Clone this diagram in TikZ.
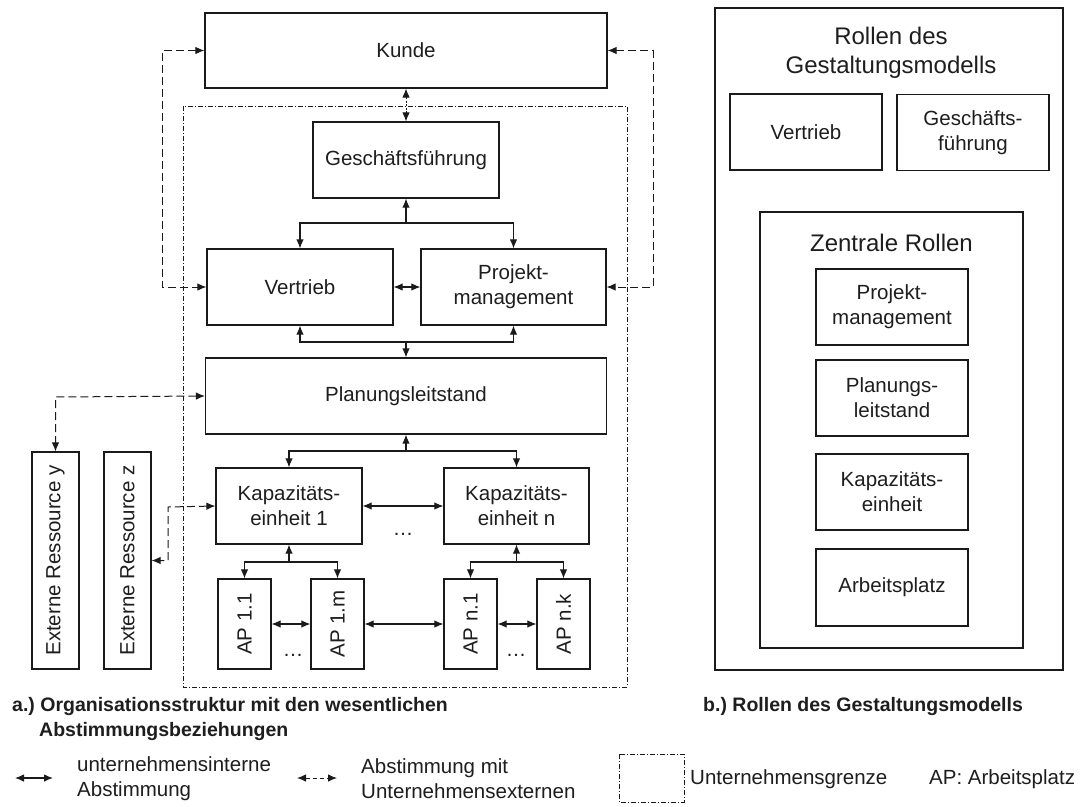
\documentclass[tikz,border=0pt]{standalone}
\usepackage{fontspec}
\setmainfont{Liberation Sans}
\usepackage{graphicx}
\usetikzlibrary{arrows.meta}
\definecolor{ink}{HTML}{1A1A1A}
\definecolor{txt}{HTML}{1E1E1E}
\frenchspacing

\begin{document}
\begin{tikzpicture}[x=1pt,y=-1pt,
  >={Latex[length=9pt,width=7.5pt]},
  every node/.style={text=txt},
  txtnode/.style={inner sep=0pt, align=center, font=\fontsize{20.5}{25}\selectfont},
  bignode/.style={inner sep=0pt, align=center, font=\fontsize{24}{29}\selectfont},
  box/.style={txtnode, draw=ink, line width=1.2pt},
  int/.style={draw=ink, line width=1.1pt},
  ext/.style={draw=ink, line width=1pt, dash pattern=on 8pt off 4pt},
  extshort/.style={draw=ink, line width=0.9pt, dash pattern=on 2pt off 1.5pt},
  border/.style={draw=ink, line width=0.8pt, dash pattern=on 5pt off 2pt on 1pt off 2pt},
  caption/.style={inner sep=0pt, align=left, font=\fontsize{19.5}{25}\selectfont\bfseries}
]
\fill[white] (0,0) rectangle (1081,806);
\useasboundingbox (0,0) rectangle (1081,806);

% company boundary
\draw[border] (183,106) rectangle (627,687);

% ---- a) organisation structure ----
\node[box, minimum width=402, minimum height=75] (kunde) at (406,50.5) {Kunde};
\node[box, minimum width=186, minimum height=76] (gf) at (406,160) {Geschäftsführung};
\node[box, minimum width=186, minimum height=76] (vt) at (300,287) {Vertrieb};
\node[box, minimum width=185, minimum height=76] (pm) at (513.5,287) {Projekt-\\management};
\node[box, minimum width=401, minimum height=76] (pl) at (406,396) {Planungsleitstand};
\node[box, minimum width=146, minimum height=76] (ke1) at (289,506) {Kapazitäts-\\einheit 1};
\node[box, minimum width=145, minimum height=76] (ken) at (516.5,506) {Kapazitäts-\\einheit n};
\node[box, minimum width=53, minimum height=90] (ap11) at (244.5,624) {\rotatebox{90}{AP 1.1}};
\node[box, minimum width=53, minimum height=90] (ap1m) at (337.5,624) {\rotatebox{90}{AP 1.m}};
\node[box, minimum width=53, minimum height=90] (apn1) at (470.5,624) {\rotatebox{90}{AP n.1}};
\node[box, minimum width=53, minimum height=90] (apnk) at (563.5,624) {\rotatebox{90}{AP n.k}};
\node[box, minimum width=47, minimum height=217] (ery) at (55.5,560.5) {\rotatebox{90}{Externe Ressource y}};
\node[box, minimum width=47, minimum height=217] (erz) at (127.5,560.5) {\rotatebox{90}{Externe Ressource z}};

\node[txtnode] (dk) at (403,534) {…};
\node[txtnode] (da1) at (293,655) {…};
\node[txtnode] (dan) at (516,655) {…};

% junction points
\coordinate (j1) at (406,223);
\coordinate (j2) at (406,342);
\coordinate (j3) at (406,451);
\coordinate (j4) at (289,562);
\coordinate (j5) at (516.5,562);

% internal coordination
\draw[int,->] (j1) -- (gf.south);
\draw[int,->] (j1) -| (vt.north);
\draw[int,->] (j1) -| (pm.north);
\draw[int,<->] (vt.east) -- (pm.west);
\draw[int,->] (j2) -| (vt.south);
\draw[int,->] (j2) -| (pm.south);
\draw[int,->] (j2) -- (pl.north);
\draw[int,->] (j3) -- (pl.south);
\draw[int,->] (j3) -| (ke1.north);
\draw[int,->] (j3) -| (ken.north);
\draw[int,<->] (ke1.east) -- (ken.west);
\draw[int,->] (j4) -- (ke1.south);
\draw[int,->] (j4) -| (ap11.north);
\draw[int,->] (j4) -| (ap1m.north);
\draw[int,->] (j5) -- (ken.south);
\draw[int,->] (j5) -| (apn1.north);
\draw[int,->] (j5) -| (apnk.north);
\draw[int,<->] (ap11.east) -- (ap1m.west);
\draw[int,<->] (ap1m.east) -- (apn1.west);
\draw[int,<->] (apn1.east) -- (apnk.west);

% coordination with external partners
\coordinate (el) at (162,287);
\coordinate (er) at (653,287);
\coordinate (ey) at (55.5,397);
\coordinate (ez) at (168,507);
\draw[extshort,<->] (kunde.south) -- (gf.north);
\draw[ext,<->] (kunde.west) -| (el) -- (vt.west);
\draw[ext,<->] (kunde.east) -| (er) -- (pm.east);
\draw[ext,<->] (pl.west) -- (ey) -- (ery.north);
\draw[ext,<->] (ke1.west) -- (ez) |- (erz.east);

% ---- b) roles ----
\node[box, minimum width=348, minimum height=662] (rollen) at (889,339) {};
\node[bignode] (rtitle) at (891,52.5) {Rollen des\\Gestaltungsmodells};
\node[box, minimum width=152, minimum height=76] (rvt) at (806,132) {Vertrieb};
\node[box, minimum width=152, minimum height=76] (rgf) at (973,132.5) {Geschäfts-\\führung};
\node[box, minimum width=263, minimum height=436] (zr) at (891.5,430) {};
\node[bignode] (zrtitle) at (891.5,243) {Zentrale Rollen};
\node[box, minimum width=152, minimum height=76] (rpm) at (892,307) {Projekt-\\management};
\node[box, minimum width=152, minimum height=76] (rpl) at (892,398) {Planungs-\\leitstand};
\node[box, minimum width=152, minimum height=76] (rke) at (892,492) {Kapazitäts-\\einheit};
\node[box, minimum width=152, minimum height=77] (rap) at (892,587.5) {Arbeitsplatz};

% ---- captions ----
\node[caption, anchor=north west] (capa) at (12,697) {a.) Organisationsstruktur mit den wesentlichen\\\hspace*{27pt}Abstimmungsbeziehungen};
\node[caption, anchor=west] (capb) at (703,706) {b.) Rollen des Gestaltungsmodells};

% ---- legend ----
\coordinate (l1a) at (15,778);
\coordinate (l1b) at (53,778);
\draw[int,<->] (l1a) -- (l1b);
\node[txtnode, align=left, anchor=west] (l1t) at (77,778.5) {unternehmensinterne\\Abstimmung};
\coordinate (l2a) at (297,778);
\coordinate (l2b) at (337,778);
\draw[draw=ink, line width=1pt, dash pattern=on 4pt off 3pt,<->] (l2a) -- (l2b);
\node[txtnode, align=left, anchor=west] (l2t) at (361,778.5) {Abstimmung mit\\Unternehmensexternen};
\draw[border] (619,754) rectangle (684,802);
\node[txtnode, anchor=west] (l3t) at (690,779) {Unternehmensgrenze};
\node[txtnode, anchor=west] (l4t) at (929,779) {AP: Arbeitsplatz};
\end{tikzpicture}
\end{document}
